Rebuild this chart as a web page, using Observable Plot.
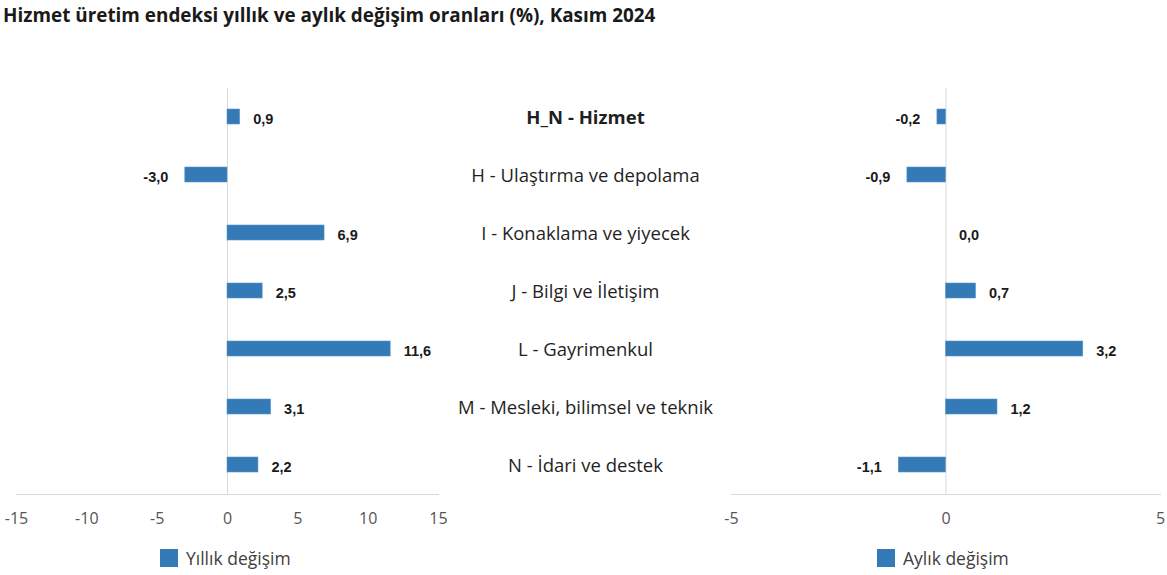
<!DOCTYPE html>
<html>
<head>
<meta charset="utf-8">
<script src="https://cdn.jsdelivr.net/npm/d3@7"></script>
<script src="https://cdn.jsdelivr.net/npm/@observablehq/plot@0.6"></script>
<style>
  body { margin: 0; background: #fff; width: 1167px; height: 575px; position: relative; overflow: hidden; font-family: "Open Sans", sans-serif; }
  #title { position: absolute; left: 3px; top: 2px; font-size: 18.9px; font-weight: bold; color: #1a1a1a; white-space: nowrap; }
  .chart { position: absolute; top: 40px; }
  .chart svg { overflow: visible; }
  .legend { position: absolute; top: 549px; display: flex; align-items: center; font-size: 17.5px; color: #404040; white-space: nowrap; line-height: 18px; }
  .legend .sw { width: 18px; height: 18px; background: #337ab7; margin-right: 8px; }
</style>
</head>
<body>
<div id="title">Hizmet üretim endeksi yıllık ve aylık değişim oranları (%), Kasım 2024</div>
<div id="left" class="chart" style="left:0px"></div>
<div id="right" class="chart" style="left:720px"></div>
<div class="legend" style="left:160px"><div class="sw"></div><span>Yıllık değişim</span></div>
<div class="legend" style="left:877px"><div class="sw"></div><span>Aylık değişim</span></div>
<script>
const categories = [
  "H_N - Hizmet",
  "H - Ulaştırma ve depolama",
  "I - Konaklama ve yiyecek",
  "J - Bilgi ve İletişim",
  "L - Gayrimenkul",
  "M - Mesleki, bilimsel ve teknik",
  "N - İdari ve destek"
];
const annual = [0.9, -3.0, 6.9, 2.5, 11.6, 3.1, 2.2];
const monthly = [-0.2, -0.9, 0.0, 0.7, 3.2, 1.2, -1.1];
const annualTicks = [-15, -10, -5, 0, 5, 10, 15];
const monthlyTicks = [-5, 0, 5];

const barColor = "#337ab7";
const fmt = v => v.toFixed(1).replace(".", ",");

function panel(values, domain, ticks, width, ml, mr, withLabels) {
  const data = categories.map((c, i) => ({cat: c, v: values[i], i}));
  const labelStyle = {fontSize: 14.5, fontWeight: "bold", fontFamily: "Liberation Sans, Arial, sans-serif", fill: "#1a1a1a"};
  const marks = [
    Plot.ruleX([0], {stroke: "#d9d9d9", strokeWidth: 1}),
    Plot.frame({anchor: "bottom", stroke: "#d9d9d9", strokeWidth: 1}),
    Plot.barX(data, {x: "v", y: "cat", fill: barColor, stroke: "#5d97c9", strokeWidth: 0.6}),
    Plot.text(data, {filter: d => d.v >= 0, x: "v", y: "cat", text: d => fmt(d.v), textAnchor: "start", dx: 13, dy: 2, ...labelStyle}),
    Plot.text(data, {filter: d => d.v < 0, x: "v", y: "cat", text: d => fmt(d.v), textAnchor: "end", dx: -17, dy: 2, ...labelStyle})
  ];
  if (withLabels) {
    marks.push(
      Plot.text(data, {filter: d => d.i === 0, y: "cat", text: "cat", frameAnchor: "right", dx: 147, dy: 1, textAnchor: "middle",
        fontSize: 18.5, fontWeight: "bold", fill: "#1f1f1f"}),
      Plot.text(data, {filter: d => d.i > 0, y: "cat", text: "cat", frameAnchor: "right", dx: 147, dy: 1, textAnchor: "middle",
        fontSize: 18.5, fill: "#1f1f1f"})
    );
  }
  return Plot.plot({
    width, height: 500,
    marginLeft: ml, marginRight: mr, marginTop: 48, marginBottom: 46,
    style: {fontFamily: "Open Sans, sans-serif", overflow: "visible", background: "transparent"},
    x: {domain, label: null},
    y: {domain: categories, axis: null, paddingInner: 0.74, paddingOuter: 0.37},
    marks: [
      ...marks,
      Plot.axisX({ticks, tickFormat: d => String(d), tickSize: 0, tickPadding: 18, label: null, fontSize: 16, fill: "#555"})
    ]
  });
}

document.getElementById("left").append(panel(annual, [-15, 15], annualTicks, 730, 16, 292, true));
document.getElementById("right").append(panel(monthly, [-5, 5], monthlyTicks, 447, 11, 7, false));
</script>
</body>
</html>
